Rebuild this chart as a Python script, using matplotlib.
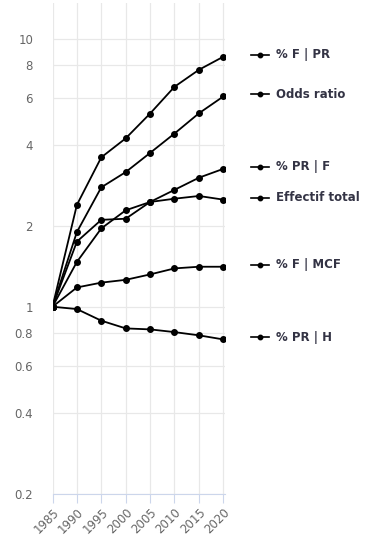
import matplotlib
matplotlib.use('Agg')
from matplotlib import pyplot as plt
from matplotlib import transforms
from matplotlib.ticker import FixedLocator, NullLocator
import numpy as np

# Data (index, 1985 = 1)
years = [1985, 1990, 1995, 2000, 2005, 2010, 2015, 2020]
f_pr = [1, 2.40, 3.61, 4.25, 5.26, 6.62, 7.66, 8.57]
odds_ratio = [1, 1.90, 2.79, 3.18, 3.75, 4.43, 5.27, 6.09]
pr_f = [1, 1.47, 1.96, 2.29, 2.46, 2.73, 3.03, 3.27]
effectif = [1, 1.75, 2.11, 2.13, 2.46, 2.53, 2.59, 2.51]
f_mcf = [1, 1.18, 1.23, 1.26, 1.32, 1.39, 1.41, 1.41]
pr_h = [1, 0.98, 0.887, 0.83, 0.823, 0.804, 0.782, 0.755]

series = [('% F | PR', f_pr), ('Odds ratio', odds_ratio), ('% PR | F', pr_f),
          ('Effectif total', effectif), ('% F | MCF', f_mcf), ('% PR | H', pr_h)]
yticks = [0.2, 0.4, 0.6, 0.8, 1, 2, 4, 6, 8, 10]
ytick_labels = ['0.2', '0.4', '0.6', '0.8', '1', '2', '4', '6', '8', '10']

fig = plt.figure(figsize=(3.73, 5.44), dpi=100)
ax = fig.add_axes([52.5 / 373, 1 - 494 / 544, (225 - 52.5) / 373, (494 - 3) / 544])

for name, vals in series:
    ax.plot(years, vals, color='black', lw=1.3, marker='o', ms=4, zorder=3)

ax.set_yscale('log')
ax.set_ylim(0.2, 13.6)
ax.set_xlim(1985, 2020.35)
ax.yaxis.set_major_locator(FixedLocator(yticks))
ax.yaxis.set_minor_locator(NullLocator())
ax.set_yticklabels(ytick_labels)
ax.set_xticks(years)
ax.set_xticklabels([str(y) for y in years], rotation=45, ha='right',
                   rotation_mode='anchor')

ax.grid(True, color='#e8e8e8', lw=0.9)
ax.set_axisbelow(True)
for side in ['top', 'right', 'left']:
    ax.spines[side].set_visible(False)
ax.spines['bottom'].set_color('#ccd6eb')
ax.tick_params(axis='y', length=0, pad=14, labelsize=8.5, labelcolor='#666666')
ax.tick_params(axis='x', length=6.5, color='#ccd6eb', pad=2, labelsize=8.5,
               labelcolor='#666666')

# End labels with small line/marker symbol
trans = transforms.blended_transform_factory(ax.transAxes, ax.transData)
x0, x1 = (251 - 52.5) / 172.5, (269 - 52.5) / 172.5
xt = (276 - 52.5) / 172.5
for name, vals in series:
    yv = vals[-1] * 10 ** (2 / 267.3)
    ax.plot([x0, x1], [yv, yv], color='black', lw=1.2, transform=trans,
            clip_on=False)
    ax.plot([(x0 + x1) / 2], [yv], 'o', color='black', ms=3.2, transform=trans,
            clip_on=False)
    ax.text(xt, yv, name, transform=trans, va='center', ha='left',
            fontsize=8.5, fontweight='bold', color='#333344')

fig.savefig('out.png', dpi=100)
